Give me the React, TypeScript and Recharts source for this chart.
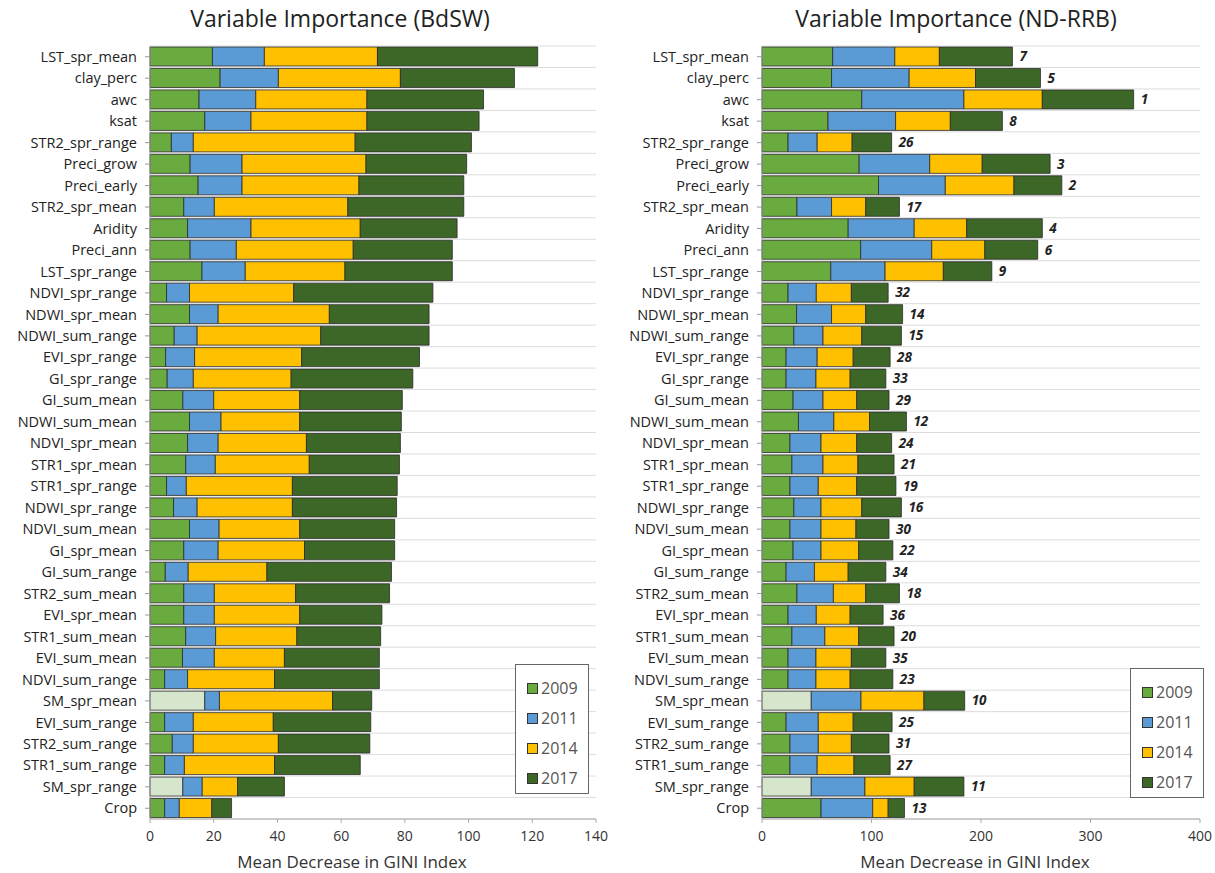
import React from "react";
import { Bar, BarChart, CartesianGrid, Cell, LabelList, XAxis, YAxis } from "recharts";

const variables = [
  "LST_spr_mean", "clay_perc", "awc", "ksat", "STR2_spr_range", "Preci_grow", "Preci_early",
  "STR2_spr_mean", "Aridity", "Preci_ann", "LST_spr_range", "NDVI_spr_range", "NDWI_spr_mean",
  "NDWI_sum_range", "EVI_spr_range", "GI_spr_range", "GI_sum_mean", "NDWI_sum_mean",
  "NDVI_spr_mean", "STR1_spr_mean", "STR1_spr_range", "NDWI_spr_range", "NDVI_sum_mean",
  "GI_spr_mean", "GI_sum_range", "STR2_sum_mean", "EVI_spr_mean", "STR1_sum_mean",
  "EVI_sum_mean", "NDVI_sum_range", "SM_spr_mean", "EVI_sum_range", "STR2_sum_range",
  "STR1_sum_range", "SM_spr_range", "Crop",
];

// rows where the 2009 value is shown pale
const paleRows = ["SM_spr_mean", "SM_spr_range"];

const years = ["2009", "2011", "2014", "2017"];

// BdSW
const bdsw2009 = [19.6, 22.0, 15.4, 17.2, 6.7, 12.6, 15.1, 10.6, 11.8, 12.6, 16.3, 5.2, 12.4, 7.6, 4.9, 5.4, 10.3, 12.4, 11.8, 11.2, 5.2, 7.4, 12.4, 10.6, 4.8, 10.6, 10.6, 11.2, 10.2, 4.6, 17.2, 4.6, 7.0, 4.6, 10.3, 4.6];
const bdsw2011 = [16.3, 18.3, 17.8, 14.5, 6.9, 16.3, 13.8, 9.6, 19.9, 14.5, 13.6, 7.2, 9.0, 7.2, 9.1, 8.2, 9.7, 9.9, 9.6, 9.3, 6.2, 7.4, 9.3, 10.8, 7.2, 9.6, 9.6, 9.4, 10.0, 7.2, 4.6, 9.0, 6.6, 6.2, 6.1, 4.6];
const bdsw2014 = [35.5, 38.3, 34.9, 36.4, 50.8, 38.9, 36.7, 41.9, 34.3, 36.7, 31.3, 32.7, 34.9, 38.8, 33.6, 30.7, 27.0, 24.7, 27.7, 29.5, 33.3, 29.9, 25.3, 27.1, 24.7, 25.5, 26.8, 25.5, 22.0, 27.3, 35.5, 25.1, 26.7, 28.3, 11.1, 10.2];
const bdsw2017 = [50.3, 35.8, 36.6, 35.2, 36.5, 31.6, 32.9, 36.4, 30.4, 31.1, 33.7, 43.7, 31.3, 34.0, 37.0, 38.2, 32.2, 31.9, 29.5, 28.3, 32.9, 32.7, 29.8, 28.3, 39.1, 29.5, 25.8, 26.3, 29.8, 32.9, 12.3, 30.6, 28.7, 26.9, 14.7, 6.2];
const bdswTicks = [0, 20, 40, 60, 80, 100, 120, 140];

// ND-RRB
const rrb2009 = [64.5, 63.5, 91.1, 60.3, 23.8, 88.7, 106.4, 31.9, 78.7, 90.1, 62.8, 23.8, 31.6, 29.1, 22.0, 22.0, 28.4, 33.3, 25.5, 27.3, 25.5, 29.1, 25.5, 28.4, 22.0, 31.9, 23.8, 27.3, 23.8, 23.8, 45.0, 22.0, 25.5, 25.5, 45.0, 53.9];
const rrb2011 = [56.8, 70.9, 93.3, 61.7, 26.6, 64.5, 61.0, 31.6, 60.3, 64.9, 49.6, 25.8, 31.9, 26.6, 28.4, 27.3, 27.3, 32.3, 28.4, 28.4, 25.9, 24.8, 28.4, 25.5, 25.9, 33.3, 25.8, 30.1, 25.5, 25.5, 45.4, 29.4, 25.9, 24.9, 49.0, 47.2];
const rrb2014 = [40.7, 60.6, 71.6, 50.0, 31.9, 47.9, 62.7, 31.2, 47.9, 48.5, 53.2, 32.0, 31.2, 35.4, 32.9, 31.2, 30.8, 32.6, 32.6, 31.9, 35.1, 37.2, 31.9, 34.4, 30.8, 29.5, 30.9, 30.9, 32.3, 31.2, 57.5, 31.9, 30.2, 33.6, 45.0, 14.1];
const rrb2017 = [66.7, 59.3, 83.4, 47.5, 36.1, 62.0, 43.7, 30.8, 69.1, 48.3, 44.3, 33.6, 33.7, 36.2, 33.7, 32.6, 29.5, 33.7, 31.9, 33.0, 35.8, 36.2, 30.2, 31.2, 34.4, 30.8, 30.1, 32.3, 31.5, 39.0, 37.2, 35.5, 34.4, 33.0, 45.4, 14.9];
const rrbRank = [7, 5, 1, 8, 26, 3, 2, 17, 4, 6, 9, 32, 14, 15, 28, 33, 29, 12, 24, 21, 19, 16, 30, 22, 34, 18, 36, 20, 35, 23, 10, 25, 31, 27, 11, 13];
const rrbTicks = [0, 100, 200, 300, 400];

const colors = ["#6aab3f", "#5b9bd5", "#ffc000", "#3d6727"];
const paleGreen = "#d6e6cc";
const font = "'Open Sans', sans-serif";

const bdswData = variables.map((name, i) => ({
  name,
  y2009: bdsw2009[i],
  y2011: bdsw2011[i],
  y2014: bdsw2014[i],
  y2017: bdsw2017[i],
}));

const rrbData = variables.map((name, i) => ({
  name,
  y2009: rrb2009[i],
  y2011: rrb2011[i],
  y2014: rrb2014[i],
  y2017: rrb2017[i],
  rank: rrbRank[i],
}));

function LegendBox({ left, top }: { left: number; top: number }) {
  return (
    <div
      style={{
        position: "absolute",
        left,
        top,
        width: 74,
        height: 130,
        border: "1.5px solid #666",
        background: "#fff",
        boxSizing: "border-box",
        padding: "8px 0 0 11px",
        fontFamily: font,
        fontSize: 16,
        color: "#555",
      }}
    >
      {years.map((y, i) => (
        <div key={y} style={{ display: "flex", alignItems: "center", height: 30 }}>
          <span
            style={{
              display: "inline-block",
              width: 9,
              height: 9,
              background: colors[i],
              border: "1px solid #333",
              marginRight: 3,
            }}
          />
          {y}
        </div>
      ))}
    </div>
  );
}

function Panel({
  title,
  data,
  ticks,
  left,
  width,
  titleCenter,
  axisTitleCenter,
  withRank,
}: {
  title: string;
  data: any[];
  ticks: number[];
  left: number;
  width: number;
  titleCenter: number;
  axisTitleCenter: number;
  withRank?: boolean;
}) {
  const n = data.length;
  return (
    <div style={{ position: "absolute", left, top: 0, width, height: 873 }}>
      <BarChart
        width={width}
        height={873}
        data={data}
        layout="vertical"
        barSize={19}
        margin={{ top: 46, right: 15, bottom: 24, left: 0 }}
      >
        <CartesianGrid
          vertical={false}
          stroke="#dcdcdc"
          horizontalCoordinatesGenerator={({ offset }: any) =>
            Array.from({ length: n + 1 }, (_, i) => offset.top + (i * offset.height) / n)
          }
        />
        <XAxis
          type="number"
          domain={[ticks[0], ticks[ticks.length - 1]]}
          ticks={ticks}
          height={30}
          stroke="#aaa"
          tickSize={4}
          tickMargin={8}
          tick={{ fontSize: 14, fill: "#333", fontFamily: font }}
        />
        <YAxis
          type="category"
          dataKey="name"
          width={150}
          interval={0}
          stroke="#999"
          tickSize={5}
          tickMargin={8}
          tick={{ fontSize: 14.5, fill: "#222", fontFamily: font }}
        />
        {["y2009", "y2011", "y2014", "y2017"].map((key, k) => (
          <Bar
            key={key}
            dataKey={key}
            stackId="a"
            fill={colors[k]}
            stroke="#2b2b2b"
            strokeWidth={0.8}
            isAnimationActive={false}
          >
            {k === 0 &&
              data.map((d) => (
                <Cell key={d.name} fill={paleRows.includes(d.name) ? paleGreen : colors[0]} />
              ))}
            {k === 3 && withRank && (
              <LabelList
                dataKey="rank"
                position="right"
                offset={7}
                style={{
                  fontSize: 13.5,
                  fontStyle: "italic",
                  fontWeight: "bold",
                  fill: "#222",
                  fontFamily: font,
                  stroke: "none",
                }}
              />
            )}
          </Bar>
        ))}
      </BarChart>
      <div
        style={{
          position: "absolute",
          left: titleCenter - 200,
          width: 400,
          top: 2,
          textAlign: "center",
          fontFamily: font,
          fontSize: 23,
          color: "#222",
        }}
      >
        {title}
      </div>
      <div
        style={{
          position: "absolute",
          left: axisTitleCenter - 150,
          width: 300,
          top: 850,
          textAlign: "center",
          fontFamily: font,
          fontSize: 17,
          color: "#333",
        }}
      >
        Mean Decrease in GINI Index
      </div>
    </div>
  );
}

export default function App() {
  return (
    <div
      style={{
        position: "absolute",
        left: 0,
        top: 0,
        width: 1215,
        height: 873,
        background: "#fff",
        overflow: "hidden",
      }}
    >
      <Panel
        title="Variable Importance (BdSW)"
        data={bdswData}
        ticks={bdswTicks}
        left={0}
        width={611}
        titleCenter={340}
        axisTitleCenter={352}
      />
      <Panel
        title="Variable Importance (ND-RRB)"
        data={rrbData}
        ticks={rrbTicks}
        left={612}
        width={603}
        titleCenter={344}
        axisTitleCenter={363}
        withRank
      />
      <LegendBox left={515} top={664} />
      <LegendBox left={1130} top={668} />
    </div>
  );
}
